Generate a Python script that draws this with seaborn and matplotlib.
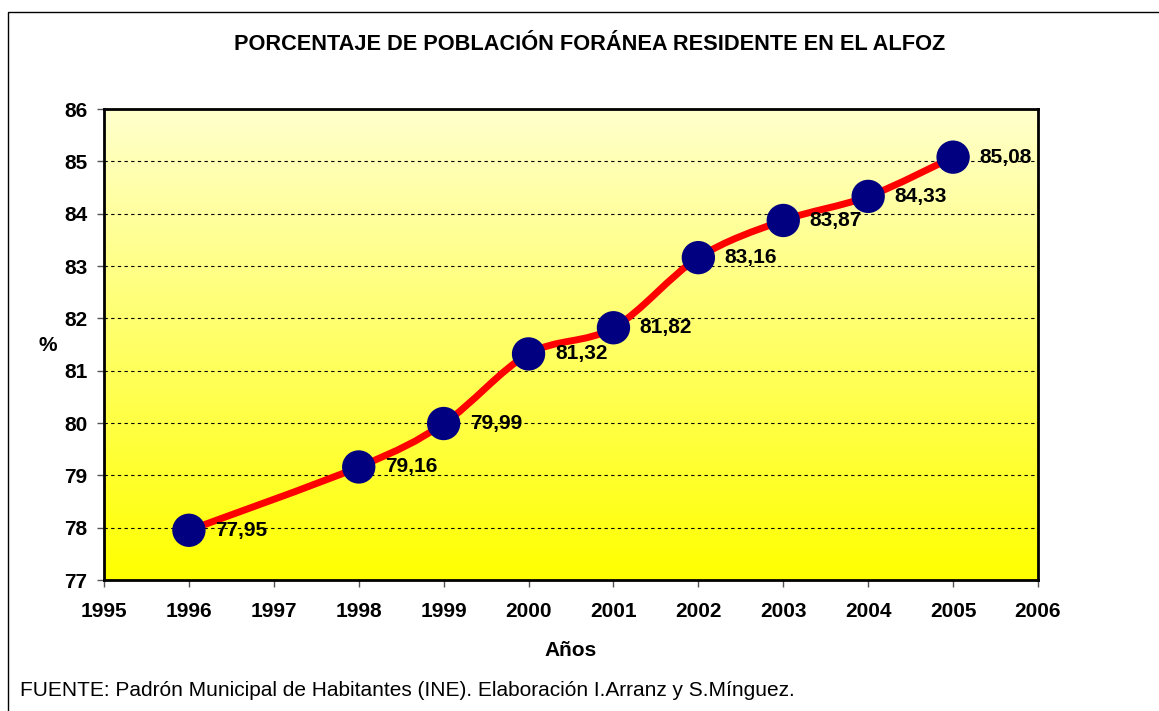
import numpy as np
import pandas as pd
import matplotlib
matplotlib.use("Agg")
import matplotlib.pyplot as plt
import seaborn as sns
from matplotlib.path import Path
from matplotlib.patches import PathPatch, Rectangle

# ---- data ----
years = [1996, 1998, 1999, 2000, 2001, 2002, 2003, 2004, 2005]
values = [77.95, 79.16, 79.99, 81.32, 81.82, 83.16, 83.87, 84.33, 85.08]
labels = ["77,95", "79,16", "79,99", "81,32", "81,82", "83,16", "83,87", "84,33", "85,08"]
x_ticks = list(range(1995, 2007))
y_ticks = list(range(77, 87))
title = "PORCENTAJE DE POBLACIÓN FORÁNEA RESIDENTE EN EL ALFOZ"
x_label = "Años"
y_label = "%"
source = "FUENTE: Padrón Municipal de Habitantes (INE). Elaboración I.Arranz y S.Mínguez."

df = pd.DataFrame({"year": years, "value": values})

sns.set_theme(style="white")
plt.rcParams["font.family"] = ["Liberation Sans", "DejaVu Sans"]
plt.rcParams["text.color"] = "black"
plt.rcParams["xtick.color"] = "black"
plt.rcParams["ytick.color"] = "black"

fig = plt.figure(figsize=(11.59, 7.11), dpi=100)
W, H = 1159, 711
ax = fig.add_axes([104 / W, 1 - 580 / H, (1038 - 104) / W, (580 - 109) / H])

# outer frame of chart area (extends beyond the image at right/bottom)
fig.patches.append(Rectangle((8 / W, -0.1), 1.2, 1 - 12 / H + 0.1, transform=fig.transFigure,
                             fill=False, edgecolor="black", linewidth=1.0))

ax.set_xlim(1995, 2006)
ax.set_ylim(77, 86)

# gradient background
grad = np.linspace(0, 1, 256).reshape(-1, 1)
cmap = matplotlib.colors.LinearSegmentedColormap.from_list("yel", ["#FFFF00", "#FFFFCC"])
ax.imshow(grad, extent=[1995, 2006, 77, 86], origin="lower", aspect="auto", cmap=cmap, zorder=0)

# gridlines
for yv in y_ticks[1:-1]:
    ax.axhline(yv, color="black", linestyle=(0, (3, 3)), linewidth=0.8, zorder=1)

# smoothed line (Excel-style Bezier)
px = np.array(years, dtype=float)
py = np.array(values, dtype=float)
n = len(px)
verts = [(px[0], py[0])]
codes = [Path.MOVETO]
for i in range(n - 1):
    p0 = np.array([px[max(i - 1, 0)], py[max(i - 1, 0)]])
    p1 = np.array([px[i], py[i]])
    p2 = np.array([px[i + 1], py[i + 1]])
    p3 = np.array([px[min(i + 2, n - 1)], py[min(i + 2, n - 1)]])
    c1 = p1 + (p2 - p0) / 6
    c2 = p2 - (p3 - p1) / 6
    verts += [tuple(c1), tuple(c2), tuple(p2)]
    codes += [Path.CURVE4] * 3
ax.add_patch(PathPatch(Path(verts, codes), fill=False, edgecolor="#FF0000", linewidth=5,
                       capstyle="round", joinstyle="round", zorder=3))

sns.scatterplot(data=df, x="year", y="value", ax=ax, s=24 ** 2, color="#000080",
                edgecolor="none", zorder=4, legend=False)

for xv, yv, lab in zip(years, values, labels):
    ax.annotate(lab, (xv, yv), xytext=(19, 0), textcoords="offset points", ha="left",
                va="center", fontsize=15, fontweight="bold", color="black", zorder=5)

ax.set_xticks(x_ticks)
ax.set_xticklabels([str(v) for v in x_ticks])
ax.set_yticks(y_ticks)
ax.set_yticklabels([str(v) for v in y_ticks])
ax.tick_params(axis="both", which="both", direction="out", length=5, width=1, color="#555555",
               labelsize=15, labelcolor="black", bottom=True, left=True)
ax.tick_params(axis="x", pad=11)
ax.tick_params(axis="y", pad=7)
for lab in ax.get_xticklabels() + ax.get_yticklabels():
    lab.set_fontweight("bold")

for sp in ax.spines.values():
    sp.set_visible(True)
    sp.set_color("black")
    sp.set_linewidth(2)

ax.set_xlabel("")
ax.set_ylabel("")
ax.grid(False)

fig.text(590 / W, 1 - 45 / H, title, ha="center", va="center", fontsize=15.7, fontweight="bold")
fig.text(571 / W, 1 - 650 / H, x_label, ha="center", va="center", fontsize=15, fontweight="bold")
fig.text(48 / W, 1 - 345 / H, y_label, ha="center", va="center", fontsize=15, fontweight="bold")
fig.text(20 / W, 1 - 690 / H, source, ha="left", va="center", fontsize=15)

fig.savefig("out.png", dpi=100)
